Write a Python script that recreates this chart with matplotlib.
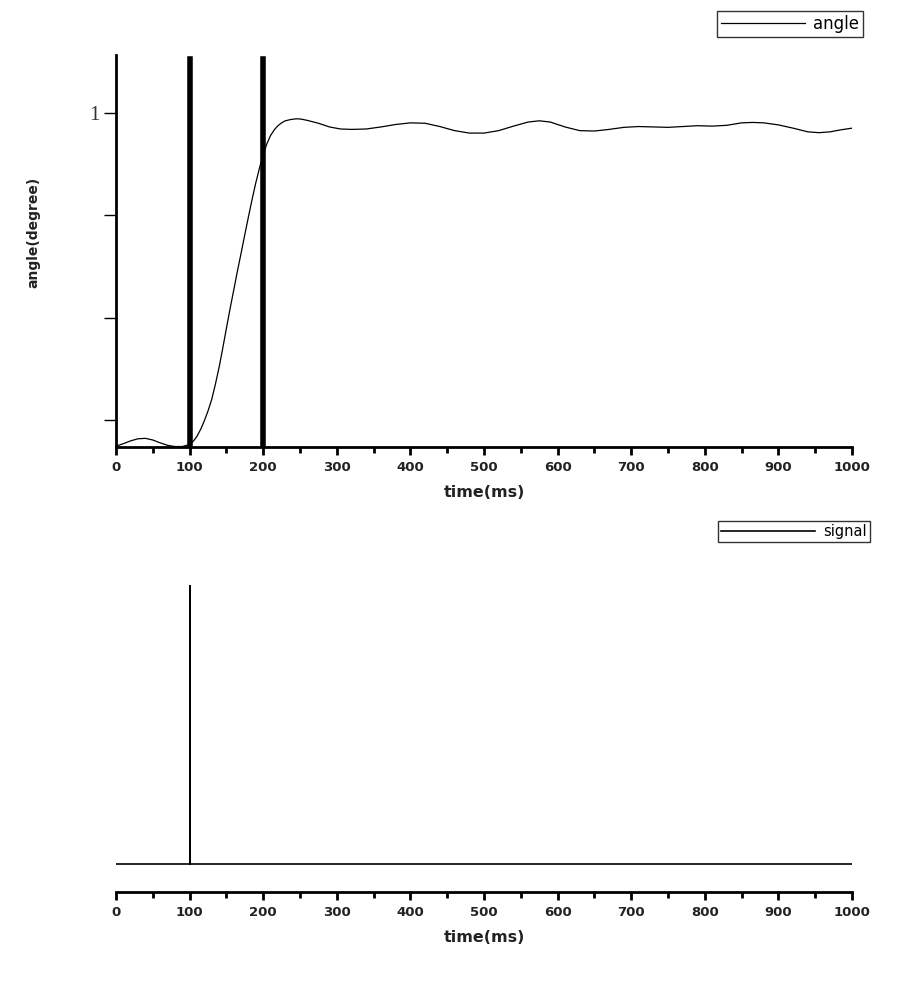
import matplotlib
matplotlib.use('Agg')
import matplotlib.pyplot as plt
from matplotlib.ticker import MultipleLocator, FixedLocator

# angle response (ms, value; tick "1" = 1.0)
angle_t = [0, 10, 20, 30, 40, 50, 60, 70, 80, 90,
           100, 105, 110, 115, 120, 125, 130, 135, 140, 145,
           150, 155, 160, 165, 170, 175, 180, 185, 190, 195,
           200, 205, 210, 215, 220, 225, 230, 237, 245, 252,
           260, 275, 290, 305, 320,
           340, 360, 380, 400, 420, 440, 460, 480, 500, 520,
           540, 560, 575, 590, 610, 630, 650, 670, 690, 710,
           730, 750, 770, 790, 810, 830, 850, 865, 880, 900,
           920, 940, 955, 970, 985, 1000]
angle_v = [0.186, 0.192, 0.199, 0.204, 0.205, 0.201, 0.194, 0.188, 0.185, 0.185,
           0.190, 0.198, 0.210, 0.227, 0.248, 0.272, 0.300, 0.337, 0.378, 0.425,
           0.474, 0.522, 0.568, 0.614, 0.658, 0.703, 0.747, 0.790, 0.830, 0.866,
           0.898, 0.925, 0.945, 0.959, 0.969, 0.976, 0.981, 0.984, 0.986, 0.985,
           0.982, 0.975, 0.966, 0.961, 0.960,
           0.961, 0.966, 0.972, 0.976, 0.975, 0.967, 0.957, 0.951, 0.951, 0.957,
           0.968, 0.978, 0.981, 0.978, 0.966, 0.957, 0.956, 0.960, 0.965, 0.967,
           0.966, 0.965, 0.967, 0.969, 0.968, 0.970, 0.976, 0.977, 0.976, 0.971,
           0.963, 0.954, 0.952, 0.954, 0.959, 0.963]

marker_t = [100, 200]

# trigger signal
signal_t = [0, 100, 100, 100, 1000]
signal_v = [0, 0, 1, 0, 0]

fig = plt.figure(figsize=(9, 9.86), dpi=100)

tick_font = dict(family='DejaVu Sans', size=9.5, weight='bold', color='#222222')
label_font = dict(family='DejaVu Sans', size=11.5, weight='bold', color='#222222')


def style_xaxis(ax):
    ax.set_xlim(0, 1000)
    ax.xaxis.set_major_locator(MultipleLocator(100))
    ax.xaxis.set_minor_locator(MultipleLocator(50))
    ax.tick_params(axis='x', which='major', direction='out', length=6, width=2, pad=4)
    ax.tick_params(axis='x', which='minor', direction='out', length=4, width=2)
    for lab in ax.get_xticklabels():
        lab.set(**tick_font)
    ax.spines['bottom'].set_linewidth(2)
    ax.spines['top'].set_visible(False)
    ax.spines['right'].set_visible(False)
    ax.set_xlabel('time(ms)', labelpad=8, **label_font)


# top panel
ax1 = fig.add_axes([0.1289, 0.5467, 0.8178, 0.3976])
line1, = ax1.plot(angle_t, angle_v, color='black', lw=0.9, label='angle')
for t in marker_t:
    ax1.axvline(t, ymin=0, ymax=0.99, color='black', lw=4)
ax1.set_ylim(0.184, 1.142)
ax1.yaxis.set_major_locator(FixedLocator([0.25, 0.5, 0.75, 1.0]))
ax1.set_yticklabels(['', '', '', '1'], family='Liberation Serif', size=15, color='#333333')
ax1.tick_params(axis='y', direction='out', length=9, width=1, pad=3)
ax1.spines['left'].set_linewidth(2)
style_xaxis(ax1)
fig.text(33 / 900, 1 - 232 / 986, 'angle(degree)', rotation=90, ha='center', va='center',
         family='DejaVu Sans', size=10, weight='bold', color='#222222')
fig.legend(handles=[line1], loc='upper right', bbox_to_anchor=(863 / 900, 1 - 11 / 986),
           frameon=True, fancybox=False, edgecolor='black', handlelength=5.0,
           prop=dict(family='DejaVu Sans', size=12), borderpad=0.25,
           handletextpad=0.5, borderaxespad=0)

# bottom panel
ax2 = fig.add_axes([0.1289, 0.0953, 0.8178, 0.3114])
line2, = ax2.plot(signal_t, signal_v, color='black', lw=1.2, label='signal')
ax2.set_ylim(-0.1, 1.0)
ax2.set_yticks([])
ax2.spines['left'].set_visible(False)
style_xaxis(ax2)
fig.legend(handles=[line2], loc='upper right', bbox_to_anchor=(870 / 900, 1 - 521 / 986),
           frameon=True, fancybox=False, edgecolor='black', handlelength=6.4,
           prop=dict(family='DejaVu Sans', size=10.5), borderpad=0.2,
           handletextpad=0.6, borderaxespad=0)

fig.savefig('out.png', dpi=100)
